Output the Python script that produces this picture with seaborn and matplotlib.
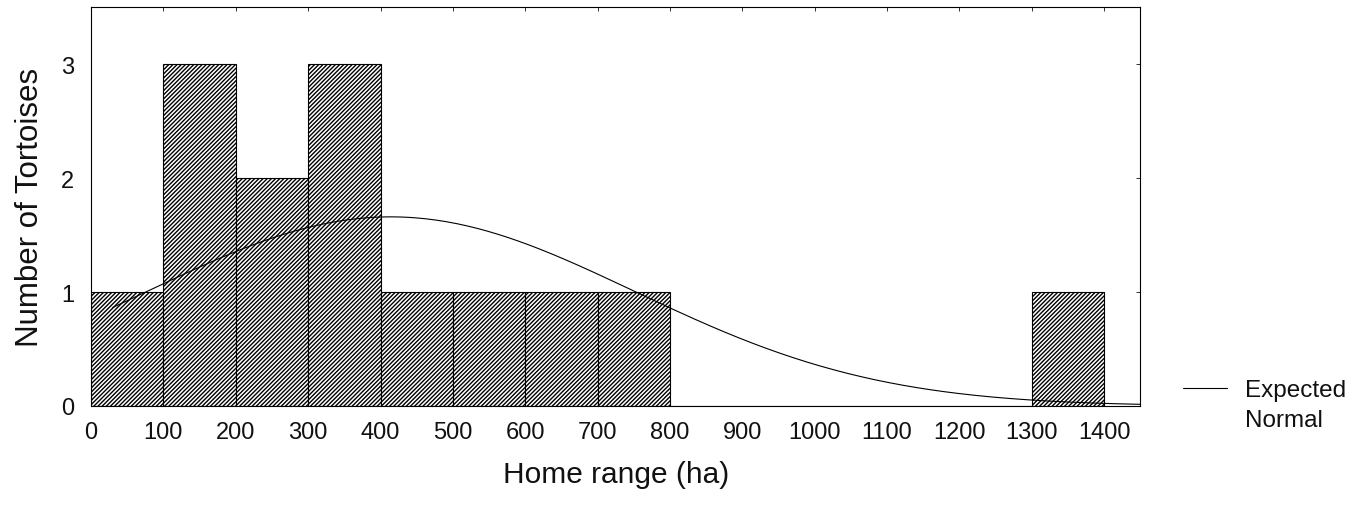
import numpy as np
import pandas as pd
import matplotlib
matplotlib.use('Agg')
import matplotlib.pyplot as plt
import seaborn as sns

# histogram data (bins of 100 ha)
bin_edges = [0, 100, 200, 300, 400, 500, 600, 700, 800, 900, 1000, 1100, 1200, 1300, 1400]
counts = [1, 3, 2, 3, 1, 1, 1, 1, 0, 0, 0, 0, 0, 1]
xticks = list(range(0, 1500, 100))
yticks = [0, 1, 2, 3]

sns.set_style('white')
plt.rcParams['font.family'] = ['Liberation Sans', 'DejaVu Sans']
plt.rcParams['hatch.linewidth'] = 1.0
for key in ['text.color', 'axes.labelcolor', 'xtick.color', 'ytick.color']:
    plt.rcParams[key] = '#111111'

mids = np.array(bin_edges[:-1]) + 50
df = pd.DataFrame({'Home range': mids, 'n': counts})

# expected normal from the binned data
w = np.array(counts)
mu = np.sum(mids * w) / w.sum()
sd = np.sqrt(np.sum(w * (mids - mu) ** 2) / (w.sum() - 1))
xs = np.linspace(30, 1450, 300)
expected = w.sum() * 100 * np.exp(-0.5 * ((xs - mu) / sd) ** 2) / (sd * np.sqrt(2 * np.pi))

fig = plt.figure(figsize=(13.69, 5.10), dpi=100)
ax = fig.add_axes([0.0665, 0.202, 0.7665, 0.782])

sns.histplot(data=df, x='Home range', weights='n', bins=bin_edges,
             color='white', edgecolor='black', linewidth=0.8, alpha=1, ax=ax)
for p in ax.patches:
    p.set_hatch('////////')

sns.lineplot(x=xs, y=expected, color='black', linewidth=0.8, ax=ax,
             label='Expected')

ax.set_xlim(0, 1450)
ax.set_ylim(0, 3.5)
ax.set_xticks(xticks)
ax.set_yticks(yticks)
ax.tick_params(direction='in', length=3, width=0.6, labelsize=17, top=True, right=True)
ax.tick_params(axis='x', pad=11)
ax.tick_params(axis='y', pad=12)
for s in ax.spines.values():
    s.set_visible(True)
    s.set_color('black')
    s.set_linewidth(0.8)

ax.set_xlabel('Home range (ha)', fontsize=21.5, labelpad=12)
ax.set_ylabel('Number of Tortoises', fontsize=22.5, labelpad=12)

# legend: line with "Expected", second line "Normal" underneath
ax.legend(loc='center left', bbox_to_anchor=(1.041, 0.04), frameon=False,
          fontsize=17.5, handlelength=1.8, handletextpad=0.74,
          borderpad=0, borderaxespad=0)
ax.text(1.100, -0.035, 'Normal', transform=ax.transAxes, fontsize=17.5,
        ha='left', va='center')

fig.savefig('out.png', dpi=100)
